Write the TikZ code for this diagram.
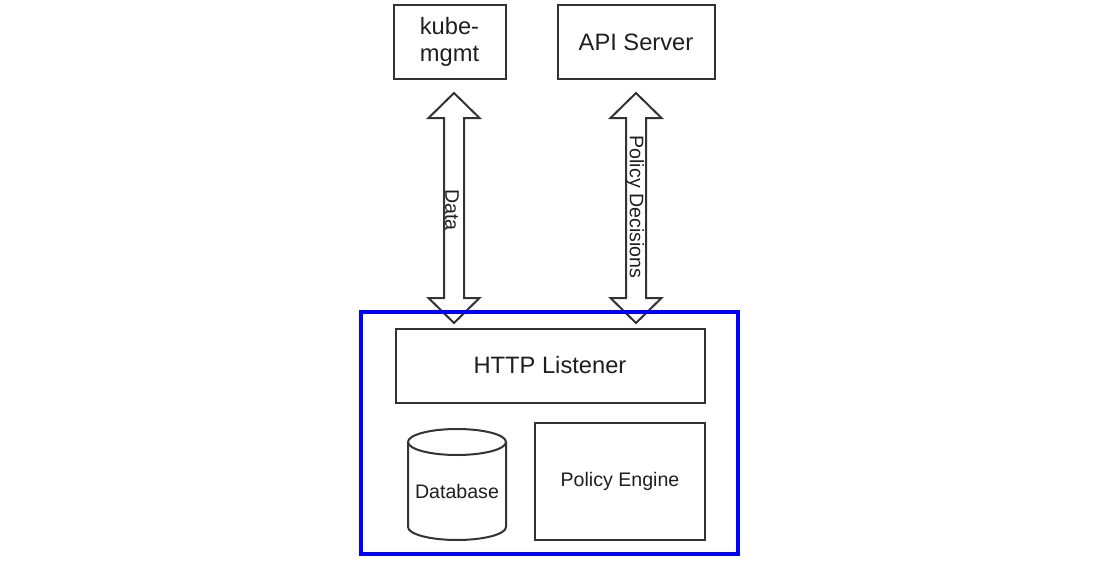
\documentclass[tikz,border=0pt]{standalone}
\usepackage{fontspec}
\setmainfont{Liberation Sans}
\usetikzlibrary{calc}
\definecolor{ln}{HTML}{333333}
\definecolor{tx}{HTML}{1F1F1F}
\definecolor{bl}{HTML}{0000FF}
\tikzset{
  box/.style={draw=ln, line width=2pt, fill=white, inner sep=0pt, text=tx, align=center},
  big/.style={font=\fontsize{23.7}{26.5}\selectfont},
  small/.style={font=\fontsize{19.6}{22}\selectfont},
  arr/.style={draw=ln, line width=2pt, fill=white, line join=miter},
  lbl/.style={text=tx, inner sep=0pt, rotate=-90, font=\fontsize{19.6}{22}\selectfont},
  outer/.style={draw=bl, line width=3.5pt, inner sep=0pt}
}
\newcommand\dblarr[2]{%
  \draw[arr] (#1) -- ($(#1)+(25.5,25)$) -- ($(#1)+(10,25)$) -- ($(#2)+(10,-25)$)
    -- ($(#2)+(25.5,-25)$) -- (#2) -- ($(#2)+(-25.5,-25)$) -- ($(#2)+(-10,-25)$)
    -- ($(#1)+(-10,25)$) -- ($(#1)+(-25.5,25)$) -- cycle;}
\begin{document}
\begin{tikzpicture}[x=1pt,y=-1pt]
\useasboundingbox[fill=white] (0,0) rectangle (1101,562);
% top boxes
\node[box, big, minimum width=112pt, minimum height=74pt] (kube) at (449.5,42) {kube-\\mgmt};
\node[box, big, minimum width=157pt, minimum height=74pt] (api) at (636,42) {API Server};
% arrows
\coordinate (dT) at (454,93);
\coordinate (dB) at (454,323);
\coordinate (pT) at (636,93);
\coordinate (pB) at (636,323);
\dblarr{dT}{dB}
\dblarr{pT}{pB}
\node[lbl] (data) at (452,210) {Data};
\node[lbl] (pd) at (635,207) {Policy Decisions};
% container
\node[outer, minimum width=377pt, minimum height=242pt] (opa) at (549.5,433) {};
\node[box, big, minimum width=309pt, minimum height=74pt] (http) at (550,365.5) {HTTP Listener};
\node[box, small, minimum width=170pt, minimum height=117pt] (pe) at (620,481) {Policy Engine};
% database cylinder
\draw[draw=ln, line width=2pt, fill=white] (408,442) -- (408,527)
  arc[start angle=180, end angle=360, x radius=49pt, y radius=13pt] -- (506,442);
\draw[draw=ln, line width=2pt] (457,442) ellipse [x radius=49pt, y radius=13pt];
\node[small, text=tx, inner sep=0pt] (db) at (457,491) {Database};
\end{tikzpicture}
\end{document}
